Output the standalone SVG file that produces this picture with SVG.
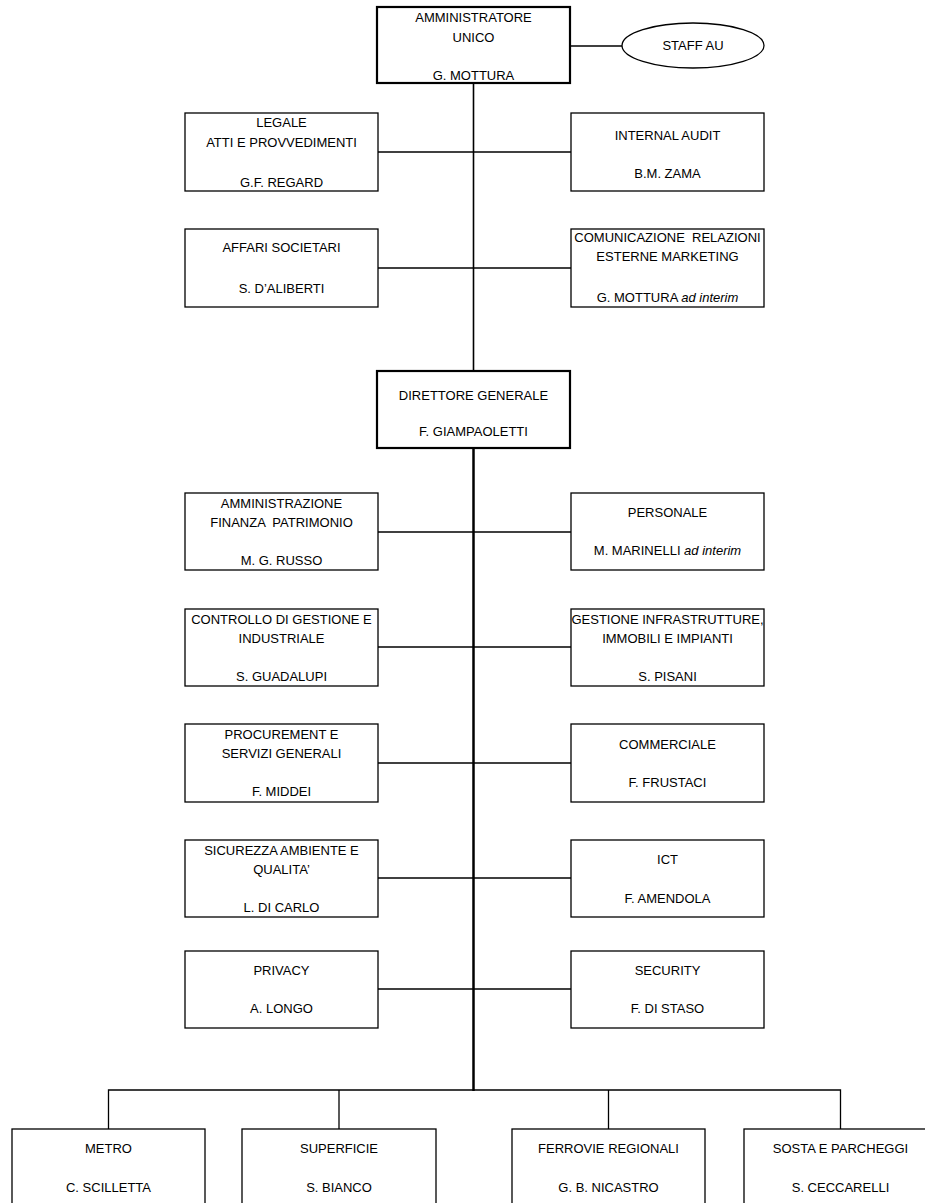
<svg xmlns="http://www.w3.org/2000/svg" width="925" height="1203" viewBox="0 0 925 1203">
<style>
.box{fill:#fff;stroke:#000;stroke-width:1.3}
.boxb{fill:#fff;stroke:#000;stroke-width:2.2}
.ln{stroke:#000;stroke-width:1.3;fill:none}
.lnb{stroke:#000;stroke-width:2.5;fill:none}
text{font-family:"Liberation Sans",Arial,sans-serif;font-size:13px;fill:#000;text-anchor:middle}
.it{font-style:italic}
</style>
<rect width="925" height="1203" fill="#fff"/>
<g id="connectors">
<line class="ln" x1="473.5" y1="83" x2="473.5" y2="371" style="stroke-width:1.6"/>
<line class="ln" x1="570" y1="46" x2="622" y2="46"/>
<line class="ln" x1="378" y1="152" x2="571" y2="152"/>
<line class="ln" x1="378" y1="268" x2="571" y2="268"/>
<line class="lnb" x1="473.5" y1="448" x2="473.5" y2="1091"/>
<line class="ln" x1="378" y1="532" x2="571" y2="532"/>
<line class="ln" x1="378" y1="647" x2="571" y2="647"/>
<line class="ln" x1="378" y1="763" x2="571" y2="763"/>
<line class="ln" x1="378" y1="878" x2="571" y2="878"/>
<line class="ln" x1="378" y1="989" x2="571" y2="989"/>
<polyline class="ln" points="108.5,1129 108.5,1090 840.5,1090 840.5,1129"/>
<line class="ln" x1="339" y1="1090" x2="339" y2="1129"/>
<line class="ln" x1="608.5" y1="1090" x2="608.5" y2="1129"/>
</g>
<g id="au"><rect class="boxb" x="377" y="7" width="193" height="76"/>
<text x="473.5" y="21.5">AMMINISTRATORE</text><text x="473.5" y="41.5">UNICO</text><text x="473.5" y="79.5">G. MOTTURA</text></g>
<g id="staff-au"><ellipse class="box" cx="693" cy="45.5" rx="71" ry="22.5"/><text x="693" y="50">STAFF AU</text></g>
<g id="legale"><rect class="box" x="185" y="113" width="193" height="78"/>
<text x="281.5" y="126.5">LEGALE</text><text x="281.5" y="146.5">ATTI E PROVVEDIMENTI</text><text x="281.5" y="186.5">G.F. REGARD</text></g>
<g id="internal-audit"><rect class="box" x="571" y="113" width="193" height="78"/>
<text x="667.5" y="139.5">INTERNAL AUDIT</text><text x="667.5" y="177.5">B.M. ZAMA</text></g>
<g id="affari"><rect class="box" x="185" y="229" width="193" height="78"/>
<text x="281.5" y="251.5">AFFARI SOCIETARI</text><text x="281.5" y="292.5">S. D’ALIBERTI</text></g>
<g id="comunicazione"><rect class="box" x="571" y="229" width="193" height="78"/>
<text x="667.5" y="241.5" xml:space="preserve">COMUNICAZIONE  RELAZIONI</text><text x="667.5" y="261">ESTERNE MARKETING</text><text x="667.5" y="301.5">G. MOTTURA <tspan class="it">ad interim</tspan></text></g>
<g id="dg"><rect class="boxb" x="377" y="371" width="193" height="77"/>
<text x="473.5" y="399.5">DIRETTORE GENERALE</text><text x="473.5" y="435.5">F. GIAMPAOLETTI</text></g>
<g id="afp"><rect class="box" x="185" y="493" width="193" height="77"/>
<text x="281.5" y="507.5">AMMINISTRAZIONE</text><text x="281.5" y="526.5" xml:space="preserve">FINANZA  PATRIMONIO</text><text x="281.5" y="564.5">M. G. RUSSO</text></g>
<g id="personale"><rect class="box" x="571" y="493" width="193" height="77"/>
<text x="667.5" y="516.5">PERSONALE</text><text x="667.5" y="554.5">M. MARINELLI <tspan class="it">ad interim</tspan></text></g>
<g id="controllo"><rect class="box" x="185" y="609" width="193" height="77"/>
<text x="281.5" y="623.5">CONTROLLO DI GESTIONE E</text><text x="281.5" y="642.5">INDUSTRIALE</text><text x="281.5" y="680.5">S. GUADALUPI</text></g>
<g id="infrastrutture"><rect class="box" x="571" y="609" width="193" height="77"/>
<text x="667.5" y="623.5">GESTIONE INFRASTRUTTURE,</text><text x="667.5" y="642.5">IMMOBILI E IMPIANTI</text><text x="667.5" y="680.5">S. PISANI</text></g>
<g id="procurement"><rect class="box" x="185" y="724" width="193" height="78"/>
<text x="281.5" y="738.5">PROCUREMENT E</text><text x="281.5" y="757.5">SERVIZI GENERALI</text><text x="281.5" y="795.5">F. MIDDEI</text></g>
<g id="commerciale"><rect class="box" x="571" y="724" width="193" height="78"/>
<text x="667.5" y="748.5">COMMERCIALE</text><text x="667.5" y="786.5">F. FRUSTACI</text></g>
<g id="sicurezza"><rect class="box" x="185" y="840" width="193" height="77"/>
<text x="281.5" y="854.5">SICUREZZA AMBIENTE E</text><text x="281.5" y="873.5">QUALITA’</text><text x="281.5" y="911.5">L. DI CARLO</text></g>
<g id="ict"><rect class="box" x="571" y="840" width="193" height="77"/>
<text x="667.5" y="863.5">ICT</text><text x="667.5" y="902.5">F. AMENDOLA</text></g>
<g id="privacy"><rect class="box" x="185" y="951" width="193" height="77"/>
<text x="281.5" y="974.5">PRIVACY</text><text x="281.5" y="1012.5">A. LONGO</text></g>
<g id="security"><rect class="box" x="571" y="951" width="193" height="77"/>
<text x="667.5" y="974.5">SECURITY</text><text x="667.5" y="1012.5">F. DI STASO</text></g>
<g id="metro"><rect class="box" x="12" y="1129" width="193" height="90"/>
<text x="108.5" y="1152.5">METRO</text><text x="108.5" y="1191.5">C. SCILLETTA</text></g>
<g id="superficie"><rect class="box" x="242" y="1129" width="194" height="90"/>
<text x="339" y="1152.5">SUPERFICIE</text><text x="339" y="1191.5">S. BIANCO</text></g>
<g id="ferrovie"><rect class="box" x="512" y="1129" width="193" height="90"/>
<text x="608.5" y="1152.5">FERROVIE REGIONALI</text><text x="608.5" y="1191.5">G. B. NICASTRO</text></g>
<g id="sosta"><rect class="box" x="744" y="1129" width="193" height="90"/>
<text x="840.5" y="1152.5">SOSTA E PARCHEGGI</text><text x="840.5" y="1191.5">S. CECCARELLI</text></g>
</svg>
